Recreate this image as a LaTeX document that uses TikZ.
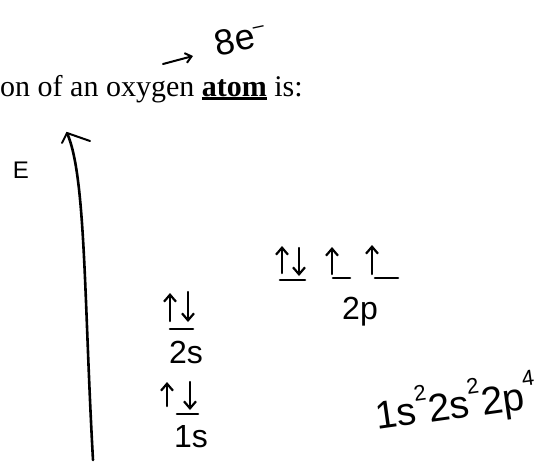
\documentclass[tikz,border=0pt]{standalone}
\usepackage{fontspec}
\setmainfont{Liberation Serif}
\newfontfamily\handfont{Liberation Sans}
\usetikzlibrary{arrows.meta}
\newcommand\thickul[1]{\setbox0\hbox{#1}\rlap{\rule[-3.5pt]{\wd0}{2.2pt}}\box0\relax}
\newcommand\hsup[1]{\raisebox{1.1ex}{\fontsize{22}{22}\selectfont #1}}
\begin{document}
\begin{tikzpicture}[x=1pt,y=-1pt,
  ink/.style={line width=2pt, line cap=round, line join=round},
  spin/.style={ink, line width=2.5pt, -{Straight Barb[length=7pt,width=12pt,line width=2.2pt]}},
  lvl/.style={ink, line width=2.6pt},
  hand/.style={font=\handfont\fontsize{32}{32}\selectfont, inner sep=0pt},
]
\useasboundingbox (0,0) rectangle (540,466);
\fill[white] (0,0) rectangle (540,466);

% printed line
\node[anchor=base west, inner sep=0pt, font=\fontsize{30}{30}\selectfont] (title) at (0,96)
  {on of an oxygen \thickul{\textbf{atom}} is:};

% 8 e-
\node[hand, rotate=12, anchor=west, font=\handfont\fontsize{36}{36}\selectfont] (eight) at (215,44)
  {8e\raisebox{0.75ex}{\fontsize{20}{20}\selectfont –}};
\coordinate (a1) at (163,64);
\coordinate (a2) at (193,56);
\draw[ink, -{Straight Barb[length=6pt,width=10pt]}] (a1) -- (a2);

% energy axis
\coordinate (axbot) at (93,460);
\coordinate (axtop) at (67,133);
\coordinate (headl) at (62,143);
\coordinate (headr) at (90,141);
\draw[ink, line width=2.6pt] (axbot) .. controls (84,300) and (86,175) .. (axtop);
\draw[ink] (headl) -- (axtop) -- (headr);
\node[hand, font=\handfont\fontsize{24}{24}\selectfont] (elabel) at (21,170) {E};

% 1s
\draw[lvl] (177,414) -- (198,414);
\draw[spin] (167,406) -- (167,382);
\draw[spin] (190,382) -- (190,410);
\node[hand] (l1s) at (191,437) {1s};

% 2s
\draw[lvl] (170,329) -- (193,329);
\draw[spin] (170,321) -- (170,293);
\draw[spin] (188,292) -- (188,322);
\node[hand] (l2s) at (186,352) {2s};

% 2p
\draw[lvl] (280,280) -- (305,280);
\draw[spin] (282,273) -- (282,246);
\draw[spin] (299,248) -- (299,276);
\draw[lvl] (333,278) -- (350,278);
\draw[spin] (332,274) -- (332,247);
\draw[lvl] (375,278) -- (398,278);
\draw[spin] (372,274) -- (372,245);
\node[hand] (l2p) at (360,312) {2p};

% configuration
\node[hand, anchor=base west, rotate=8, font=\handfont\fontsize{39}{39}\selectfont] (config) at (377,430)
  {1s\hsup{2}2s\hsup{2}2p\hsup{4}};
\end{tikzpicture}
\end{document}
